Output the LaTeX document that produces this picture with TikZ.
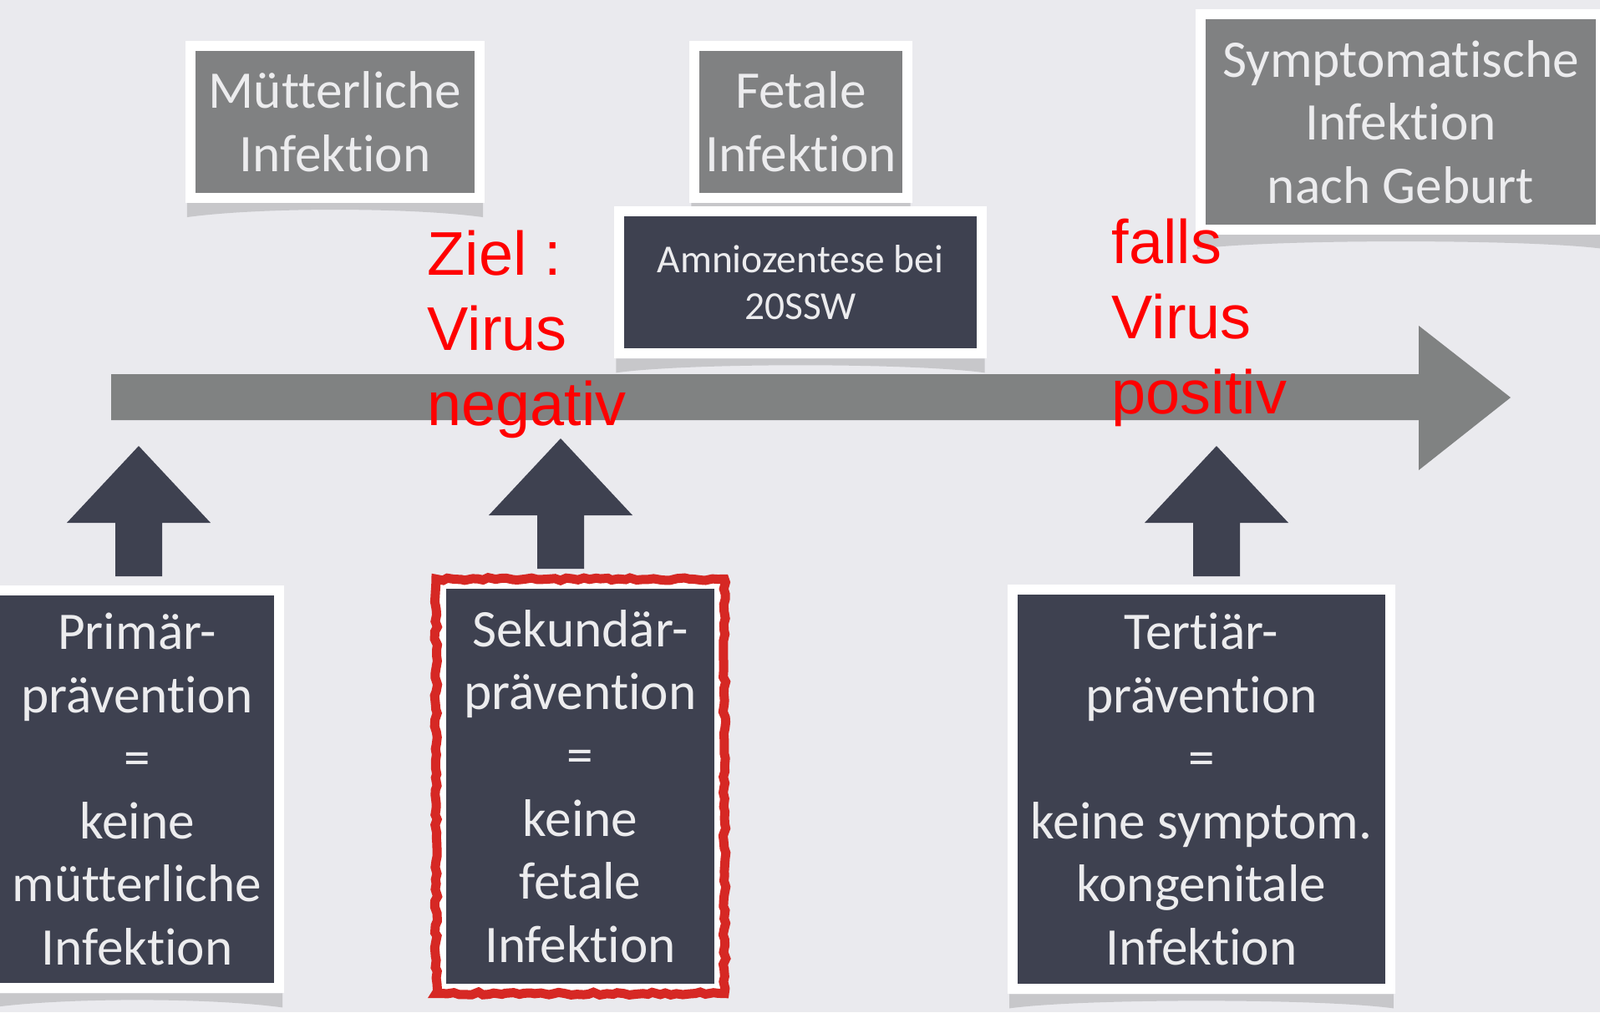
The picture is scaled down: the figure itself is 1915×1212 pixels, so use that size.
\documentclass[tikz,border=0pt]{standalone}
\usepackage{fontspec}
\setmainfont{Carlito}[Ligatures={NoCommon}]
\newfontfamily\notefont{Liberation Sans}
\usetikzlibrary{
  backgrounds,
  decorations.pathmorphing,
}
\definecolor{bggray}{RGB}{234,234,238}
\definecolor{boxgray}{RGB}{128,129,130}
\definecolor{boxdark}{RGB}{62,65,80}
\definecolor{linegray}{RGB}{128,130,130}
\definecolor{textlight}{RGB}{236,236,238}
\definecolor{markred}{RGB}{214,40,36}

\begin{document}
\begin{tikzpicture}[x=0.01cm, y=-0.01cm,
  card/.style={draw=white, line width=0.12cm, text=textlight, align=center,
    inner sep=0pt, font=\fontsize{18}{21.5}\selectfont},
  lightcard/.style={card, fill=boxgray},
  darkcard/.style={card, fill=boxdark},
  note/.style={text=red, align=left, anchor=north west, inner sep=0pt,
    font=\notefont\fontsize{21}{25.6}\selectfont},
  cardshadow/.style={fill=black!70, opacity=0.22},
  redframe/.style={draw=markred, line width=0.11cm,
    decorate, decoration={random steps, segment length=2pt, amplitude=0.5pt}},
]
\useasboundingbox (0,0) rectangle (1915,1212);

\node[lightcard, minimum width=3.46cm, minimum height=1.82cm] (mutter) at (401,146) {Mütterliche\\Infektion};
\node[lightcard, minimum width=2.54cm, minimum height=1.82cm] (fetal) at (958.5,146) {Fetale\\Infektion};
\node[darkcard, minimum width=4.33cm, minimum height=1.705cm,
  font=\fontsize{13.5}{16}\selectfont] (amnio) at (958,338) {Amniozentese bei\\20SSW};
\node[lightcard, minimum width=4.79cm, minimum height=2.58cm] (sympt) at (1676.5,146) {Symptomatische\\Infektion\\nach Geburt};

\node[darkcard, minimum width=3.40cm, minimum height=4.765cm] (primary) at (164,945) {Primär-\\prävention\\=\\keine\\mütterliche\\Infektion};
\node[darkcard, minimum width=3.33cm, minimum height=4.84cm] (secondary) at (694.5,941.5) {Sekundär-\\prävention\\=\\keine\\fetale\\Infektion};
\node[darkcard, minimum width=4.515cm, minimum height=4.785cm] (tertiary) at (1438,945) {Tertiär-\\prävention\\=\\keine symptom.\\kongenitale\\Infektion};

\draw[redframe] (secondary.north west) rectangle (secondary.south east);

\begin{scope}[on background layer]
\fill[bggray] (0,0) rectangle (1915,1212);
\foreach \n in {mutter,fetal,amnio,sympt,primary,tertiary}
  \fill[cardshadow] ([shift={(2,0)}]\n.south west) -- ([shift={(-2,0)}]\n.south east)
    -- ([shift={(-2,17)}]\n.south east)
    .. controls ([shift={(-90,5)}]\n.south east) and ([shift={(90,5)}]\n.south west)
    .. ([shift={(2,17)}]\n.south west) -- cycle;
\end{scope}

\coordinate (tail) at (133,476);
\coordinate (tip) at (1808,476);
\fill[linegray] ([shift={(0,-28)}]tail) -- (1698,448) -- (1698,390) -- (tip)
  -- (1698,563) -- (1698,503) -- ([shift={(0,27)}]tail) -- cycle;

\foreach \x/\dy in {166/0, 671/-9, 1456/0}
  \fill[boxdark, shift={(\x,\dy)}] (0,534) -- (86,626) -- (28,626) -- (28,690)
    -- (-28,690) -- (-28,626) -- (-86,626) -- cycle;

\node[note] (goal) at (511,275) {Ziel :\\Virus\\negativ};
\node[note] (ifpos) at (1330,261) {falls\\Virus\\positiv};
\end{tikzpicture}
\end{document}
